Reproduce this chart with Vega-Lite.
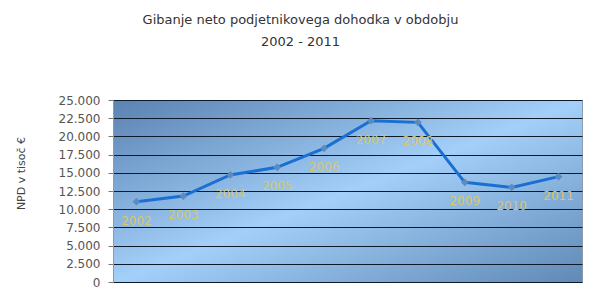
{
  "$schema": "https://vega.github.io/schema/vega-lite/v6.json",
  "autosize": {"type": "none"},
  "width": 469,
  "height": 182,
  "padding": {"left": 113, "top": 100, "right": 18, "bottom": 23},
  "background": "#ffffff",
  "title": {
    "text": ["Gibanje neto podjetnikovega dohodka v obdobju", "2002 - 2011"],
    "font": "DejaVu Sans",
    "fontSize": 13,
    "fontWeight": "normal",
    "color": "#333333",
    "anchor": "middle",
    "frame": "group",
    "dx": -47,
    "lineHeight": 22,
    "offset": 45
  },
  "config": {
    "view": {
      "stroke": "#8e9bab",
      "strokeWidth": 1,
      "fill": {
        "gradient": "linear",
        "x1": 0, "y1": 0, "x2": 1, "y2": 1,
        "stops": [
          {"offset": 0, "color": "#5a82b2"},
          {"offset": 0.5, "color": "#a3cff8"},
          {"offset": 1, "color": "#6089b6"}
        ]
      }
    }
  },
  "data": {
    "values": [
      {"year": "2002", "value": 11030},
      {"year": "2003", "value": 11810},
      {"year": "2004", "value": 14700},
      {"year": "2005", "value": 15750},
      {"year": "2006", "value": 18360},
      {"year": "2007", "value": 22160},
      {"year": "2008", "value": 21930},
      {"year": "2009", "value": 13690},
      {"year": "2010", "value": 13000},
      {"year": "2011", "value": 14470}
    ]
  },
  "encoding": {
    "x": {"field": "year", "type": "ordinal", "scale": {"type": "point", "padding": 0.5}, "axis": null},
    "y": {
      "field": "value",
      "type": "quantitative",
      "scale": {"domain": [0, 25000], "nice": false},
      "axis": {
        "values": [0, 2500, 5000, 7500, 10000, 12500, 15000, 17500, 20000, 22500, 25000],
        "labelExpr": "replace(format(datum.value, ',d'), ',', '.')",
        "labelFont": "DejaVu Sans",
        "labelFontSize": 12,
        "labelColor": "#555555",
        "labelPadding": 8,
        "tickSize": 5,
        "tickColor": "#777777",
        "domainColor": "#8e9bab",
        "grid": true,
        "gridColor": "#0d1a2a",
        "gridWidth": 1.2,
        "title": "NPD v tisoč €",
        "titleFont": "DejaVu Sans",
        "titleFontSize": 11,
        "titleFontWeight": "normal",
        "titleColor": "#444444",
        "titleX": -92,
        "titleY": 73,
        "titleAlign": "center",
        "titleBaseline": "middle",
        "titleAngle": -90
      }
    }
  },
  "layer": [
    {"mark": {"type": "line", "color": "#1a6fd2", "strokeWidth": 3}},
    {"mark": {"type": "point", "shape": "diamond", "filled": true, "size": 60, "color": "#5b8bbf", "opacity": 1}},
    {
      "mark": {"type": "text", "dy": 19, "font": "DejaVu Sans", "fontSize": 12, "color": "#d8c66a"},
      "encoding": {"text": {"field": "year"}}
    }
  ]
}
